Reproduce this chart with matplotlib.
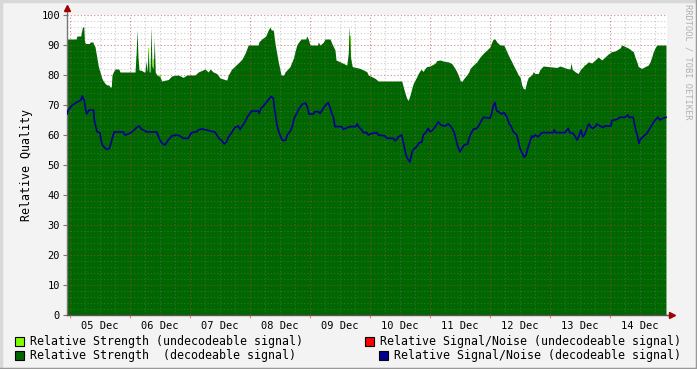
import numpy as np
import matplotlib
matplotlib.use("Agg")
import matplotlib.pyplot as plt
from matplotlib.patches import Rectangle

# hours since 05 Dec 00:00
strength_t = [-1.2, 2.4, 2.8, 4.3, 4.5, 5.0, 5.5, 5.8, 6.3, 7.8, 8.0, 9.2, 9.4, 10.0, 10.7, 11.3,
              12.0, 12.7, 13.3, 14.0, 14.7, 15.5, 16.0, 16.5, 16.8, 17.3, 18.0, 19.5, 20.0, 26.0,
              26.4, 26.8, 27.2, 27.6, 28.7, 29.6, 30.0, 30.4, 30.8, 31.3, 31.7, 32.0, 32.4, 32.8,
              33.3, 33.7, 34.1, 34.7, 36.0, 36.7, 39.3, 40.7, 43.3, 45.3, 46.7, 50.0, 51.3, 54.0,
              55.3, 56.0, 57.3, 58.7, 60.0, 62.7, 63.3, 64.7, 66.0, 67.3, 68.7, 70.0, 71.3, 75.3,
              75.5, 76.7, 78.3, 79.3, 80.0, 80.5, 81.3, 82.0, 82.7, 83.3, 84.0, 84.4, 85.5, 86.0,
              88.0, 89.3, 90.0, 90.7, 91.3, 92.4, 94.3, 94.7, 95.3, 96.0, 99.0, 99.3, 100.0, 101.3,
              102.0, 104.0, 104.7, 106.0, 106.4, 108.0, 109.3, 110.7, 111.3, 111.7, 112.2, 112.9,
              116.0, 117.3, 118.7, 119.3, 122.0, 123.3, 132.7, 133.3, 134.0, 134.7, 135.3, 136.0,
              136.7, 137.3, 138.7, 139.3, 140.4, 141.3, 142.0, 142.7, 144.0, 146.0, 146.7, 148.0,
              150.0, 151.3, 152.7, 154.0, 154.7, 155.3, 156.0, 156.7, 157.6, 158.7, 159.5, 160.0,
              161.3, 162.7, 164.0, 165.3, 166.7, 168.0, 168.7, 169.3, 170.0, 170.7, 172.0, 173.5,
              174.7, 175.3, 176.0, 176.7, 177.3, 178.0, 178.7, 179.3, 180.0, 180.7, 181.3, 182.0,
              182.7, 183.3, 184.7, 185.3, 186.0, 187.3, 188.0, 189.3, 194.7, 196.0, 198.7, 200.0,
              200.4, 200.9, 202.0, 203.3, 204.0, 205.3, 207.3, 208.7, 210.0, 211.3, 212.7, 214.0,
              215.3, 216.7, 218.0, 220.0, 220.7, 223.3, 225.3, 226.0, 226.7, 227.3, 228.7, 230.0,
              231.3, 232.0, 232.7, 233.3, 234.0, 234.7, 238.4]
strength_v = [92, 92, 93, 93, 94, 96, 96, 91, 90.5, 90.5, 91, 91, 90.3, 89.4, 86, 83,
              81, 79, 78, 77.2, 76.7, 76.7, 76, 76, 80, 81, 82, 82, 81, 81,
              86, 95, 86, 81.7, 81.5, 81, 81, 84.8, 81, 88.3, 81, 81, 96, 83,
              82, 92, 81, 80, 79.4, 78, 78.5, 79.7, 80, 79.2, 80, 80, 81, 82,
              81, 82, 81, 80.5, 79, 78.3, 80, 82, 83, 84, 85.2, 87.2, 90, 90,
              91, 92, 93, 95, 96, 95, 95, 90.6, 87.2, 84.4, 81.7, 80, 80, 81,
              82.8, 85.5, 87.8, 90, 90.8, 92, 92, 93, 92, 90, 90, 91, 90, 90.9,
              92, 92, 90.6, 88.3, 85, 84.4, 83.9, 83.3, 87.2, 96.3, 86, 82.8,
              82.2, 81.7, 81.1, 80, 78.9, 78, 78, 76, 74, 72.2, 71.5, 73.3,
              75.5, 77.2, 79.4, 80.5, 81.9, 81.2, 82.2, 82.8, 83, 83.9, 84.8, 85,
              84.5, 84.4, 83.8, 82.2, 81.1, 80, 78.3, 77.8, 78.9, 80, 81, 82.2,
              83.3, 84.4, 86, 87.2, 88.3, 89.4, 91, 92, 92, 91, 90, 90,
              87.8, 86.7, 85.5, 84.4, 83.3, 82.2, 81.1, 80, 79.4, 76.7, 75.5, 75.3,
              77.8, 79.2, 80, 81.1, 80.5, 80.5, 81.9, 83, 82.5, 83, 82.2, 82,
              84, 81.9, 81.1, 80.5, 81.7, 82.8, 84.4, 84, 85, 86, 85, 86,
              87, 87.8, 88, 89, 90, 89, 87.8, 86, 84.4, 82.8, 82.2, 82.8,
              83.3, 84.4, 86, 87.8, 89, 90, 90]

# undecodeable strength, only visible where it pokes above the decodeable area
undecod_t = [26.7, 31.3, 33.3, 36.0, 112.0, 206.0]
undecod_v = [86.5, 89.0, 85.5, 80.0, 93.0, 83.5]

snr_t = [-1.2, -0.7, 0.7, 2.7, 4.4, 4.9, 5.7, 6.3, 6.7, 7.6, 9.4, 9.7, 10.3, 10.8, 12.0, 12.4,
         12.9, 13.7, 14.7, 15.7, 16.4, 16.9, 17.7, 21.3, 22.0, 23.3, 24.4, 25.7, 26.7, 27.6,
         28.7, 30.0, 30.7, 34.7, 35.3, 36.0, 36.9, 38.0, 39.3, 40.7, 42.7, 44.0, 45.3, 47.3,
         48.0, 48.7, 50.7, 51.3, 52.7, 55.0, 56.7, 58.0, 58.7, 59.6, 60.7, 61.7, 62.7, 63.3,
         64.7, 65.3, 66.0, 67.3, 68.0, 68.9, 70.0, 71.0, 72.0, 72.7, 75.3, 75.7, 76.4, 77.7,
         78.7, 79.3, 80.4, 81.3, 81.7, 82.3, 82.8, 83.3, 84.0, 84.7, 85.3, 86.3, 86.9, 88.0,
         88.9, 89.7, 90.7, 91.3, 92.0, 92.9, 94.3, 95.0, 95.6, 97.3, 98.0, 99.3, 100.0, 100.9,
         102.0, 103.3, 104.0, 104.7, 105.3, 106.0, 108.7, 109.3, 112.0, 114.3, 114.9, 115.7,
         116.7, 117.3, 118.7, 119.3, 120.7, 122.7, 123.3, 126.0, 126.7, 129.3, 130.0, 130.7,
         131.3, 132.7, 133.1, 133.7, 134.4, 135.3, 136.0, 136.7, 137.3, 138.7, 139.6, 140.7,
         141.3, 142.3, 143.3, 144.0, 144.7, 145.3, 146.3, 147.3, 148.4, 150.0, 151.3, 152.4,
         153.6, 154.3, 154.9, 156.0, 156.7, 157.7, 159.1, 159.6, 160.4, 161.3, 162.7, 163.3,
         164.0, 164.7, 165.3, 168.0, 168.7, 169.3, 170.0, 170.7, 171.3, 172.7, 173.6, 174.7,
         175.6, 176.4, 177.3, 178.7, 179.3, 180.0, 180.9, 181.7, 182.4, 183.1, 184.0, 184.7,
         185.3, 186.0, 187.3, 188.4, 188.9, 193.3, 193.7, 194.3, 198.0, 199.3, 199.9, 201.3,
         202.3, 202.8, 203.6, 204.4, 205.1, 205.7, 206.3, 207.1, 207.6, 208.4, 209.3, 210.3,
         210.7, 212.0, 213.3, 214.0, 216.4, 216.7, 218.7, 220.0, 222.0, 223.1, 223.6, 225.3,
         225.7, 226.3, 226.9, 227.6, 228.1, 228.9, 230.0, 230.7, 231.6, 232.4, 233.3, 234.3,
         235.1, 236.0, 236.9, 238.4]
snr_v = [67, 68.3, 69.8, 70.9, 71.7, 73, 71.5, 68.3, 67, 68.3, 68.3, 65, 62.8, 61.1, 60.8, 58.3,
         56.7, 55.9, 55.2, 55.5, 57.2, 58.9, 61, 61, 60, 60.3, 60.8, 61.7, 62.5, 63,
         61.9, 61.4, 61, 61, 59.7, 58.3, 57.2, 56.7, 58.3, 59.7, 60, 59.7, 58.9, 58.9,
         60, 60.8, 61.1, 61.7, 62, 61.6, 61.2, 61, 60, 58.9, 58.1, 57, 57.8, 59.2,
         60.8, 61.7, 62.5, 63, 61.8, 63, 64.4, 66.1, 67.2, 68, 68, 67.2, 68.9, 70,
         71.1, 71.7, 72.8, 72.3, 69.4, 66.1, 63.3, 61.7, 60, 58.6, 58.1, 58.3, 60, 61.1,
         62.8, 65.6, 67.2, 68.3, 69.2, 70.3, 70.6, 69.2, 67, 67, 67.8, 67.8, 67.2, 68.3,
         69.7, 70.8, 69.2, 67.2, 66.1, 62.8, 62.8, 61.9, 62.8, 62.8, 63.7, 62.5,
         61.7, 60.8, 60.8, 60, 60.5, 60.8, 60, 59.7, 58.9, 58.9, 58.1, 58.5,
         59.4, 60, 58.3, 56.1, 53.3, 51.7, 51, 53.9, 55.2, 56.1, 57.4, 57.6,
         60, 60.8, 62.2, 61.1, 61.4, 61.9, 63, 64.4, 63.3, 63, 63.7, 62.8,
         61.1, 58.9, 56.7, 54.4, 55.5, 56.7, 57, 58.9, 60.5, 61.9, 62.2, 62.8,
         63.9, 65, 65.9, 65.6, 67.2, 69.7, 70.8, 68, 67.8, 67, 67.5, 66.1,
         63.9, 63, 61.1, 60, 58.1, 55.5, 53.9, 52.6, 53.3, 55.5, 57.8, 59.7,
         59.2, 60, 59.4, 60.5, 60.8, 60.8, 61.7, 60.8, 60.8, 62.2, 60.8, 60.5,
         59.2, 58.3, 59.7, 61.7, 59.4, 60, 61.1, 63, 63.7, 62.5, 62.2, 63,
         63.7, 63, 62.5, 63, 63, 64.8, 65.2, 65.9, 65.9, 66.7, 65.9, 65.9,
         63.9, 61.7, 60, 57.2, 58.5, 59.2, 60, 60.5, 61.7, 62.8, 64.1, 65.2,
         65.9, 65, 65.5, 65.9]

day_labels = ["05 Dec", "06 Dec", "07 Dec", "08 Dec", "09 Dec",
              "10 Dec", "11 Dec", "12 Dec", "13 Dec", "14 Dec"]

C_UNDEC = "#7fff00"
C_STR = "#006600"
C_RED = "#ff0000"
C_SNR = "#000090"
MONO = "DejaVu Sans Mono"

fig = plt.figure(figsize=(6.97, 3.69), dpi=100, facecolor="#f3f3f3")
ax = fig.add_axes([67 / 697, 54 / 369, 600 / 697, 300 / 369])
ax.set_facecolor("white")

ax.bar(undecod_t, undecod_v, width=0.5, color=C_UNDEC, linewidth=0, zorder=1)
ax.fill_between(strength_t, strength_v, 0, color=C_STR, linewidth=0, zorder=2)
ax.plot(snr_t, snr_v, color=C_SNR, linewidth=1.2, zorder=4)

x0, x1 = -1.2, 238.8
ax.set_xlim(x0, x1)
ax.set_ylim(0, 100)

# grid drawn on top, like rrdtool
for h in np.arange(0, 240, 6):
    ax.axvline(h, color="#808080", alpha=0.4, lw=0.8, ls=(0, (1, 2)), zorder=3)
for v in np.arange(2, 101, 2):
    ax.axhline(v, color="#808080", alpha=0.4, lw=0.8, ls=(0, (1, 2)), zorder=3)
for h in np.arange(0, 240, 24):
    ax.axvline(h, color="#ff0000", alpha=0.3, lw=0.8, ls=(0, (1, 2)), zorder=3)
for v in np.arange(10, 101, 10):
    ax.axhline(v, color="#ff0000", alpha=0.3, lw=0.8, ls=(0, (1, 2)), zorder=3)

for s in ["top", "right"]:
    ax.spines[s].set_visible(False)
ax.spines["left"].set_color("#777777")
ax.spines["bottom"].set_color("#555555")
ax.spines["left"].set_linewidth(1)
ax.spines["bottom"].set_linewidth(1)

ax.set_yticks(np.arange(0, 101, 10))
ax.tick_params(axis="y", length=3, width=0.8, color="#777777", pad=2,
               labelsize=7.5, labelcolor="black")
for lab in ax.get_yticklabels():
    lab.set_family(MONO)

ax.set_xticks(np.arange(0, 240, 24))
ax.set_xticklabels([])
ax.tick_params(axis="x", which="major", length=2.5, width=0.8, color="#ff8080")
ax.set_xticks(np.arange(12, 240, 24), minor=True)
ax.set_xticklabels(day_labels, minor=True, fontsize=7.5, family=MONO)
ax.tick_params(axis="x", which="minor", length=0, pad=4)

ax.set_ylabel("Relative Quality", fontsize=8.4, family=MONO, labelpad=6)

# axis arrows
ax.plot([x0, x0], [100, 102], color="#777777", lw=1, clip_on=False, zorder=5)
ax.plot([x0], [102.3], marker="^", color="#a00000", markersize=4.5, clip_on=False, zorder=6)
ax.plot([x1, 240.0], [0, 0], color="#555555", lw=1, clip_on=False, zorder=5)
ax.plot([240.6], [0], marker=">", color="#a00000", markersize=4.5, clip_on=False, zorder=6)

# legend
def legend_item(xpx, ypx, color, text):
    fig.patches.append(Rectangle((xpx / 697, 1 - (ypx + 5) / 369), 9 / 697, 9 / 369,
                                 transform=fig.transFigure, facecolor=color,
                                 edgecolor="black", linewidth=0.8, figure=fig))
    fig.text((xpx + 15) / 697, 1 - ypx / 369, text, fontsize=8.37, family=MONO,
             va="center", ha="left")

legend_item(15, 341, C_UNDEC, "Relative Strength (undecodeable signal)")
legend_item(15, 355, C_STR, "Relative Strength  (decodeable signal)")
legend_item(365, 341, C_RED, "Relative Signal/Noise (undecodeable signal)")
legend_item(379, 355, C_SNR, "Relative Signal/Noise (decodeable signal)")

fig.text(688 / 697, 1 - 4 / 369, "RRDTOOL / TOBI OETIKER", rotation=-90, fontsize=6.2,
         family=MONO, color="#b0b0b0", va="top", ha="center")

# 3d-ish frame
fig.add_artist(plt.Line2D([0, 1], [1 - 0.5 / 369] * 2, color="#d8d8d8", lw=2.5,
                          transform=fig.transFigure))
fig.add_artist(plt.Line2D([0.5 / 697] * 2, [0, 1], color="#d8d8d8", lw=2.5,
                          transform=fig.transFigure))
fig.add_artist(plt.Line2D([0, 1], [0.5 / 369] * 2, color="#999999", lw=2.5,
                          transform=fig.transFigure))
fig.add_artist(plt.Line2D([1 - 0.5 / 697] * 2, [0, 1], color="#999999", lw=2.5,
                          transform=fig.transFigure))

fig.savefig("out.png", dpi=100, facecolor=fig.get_facecolor())
